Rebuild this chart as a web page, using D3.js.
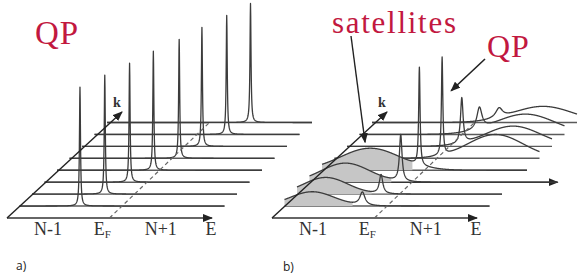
<!DOCTYPE html>
<html>
<head>
<meta charset="utf-8">
<script src="https://cdn.jsdelivr.net/npm/d3@7"></script>
<style>
  body { margin: 0; background: #fff; }
  svg text { font-family: "Liberation Serif", "Times New Roman", serif; }
</style>
</head>
<body>
<svg id="chart" width="580" height="280"></svg>
<script>
// k rows of the waterfall (0 = front E axis)
const kRows = [0, 1, 2, 3, 4, 5, 6, 7, 8];

// a) non-interacting: one delta-like peak per k (energy rel. to E_F, weight, width)
const qpA = [-0.41, -0.29, -0.17, -0.06, 0.07, 0.17, 0.29, 0.40];
const qpAWeight = [1, 1, 1, 1, 1, 1, 1, 1];
const qpAWidth = [0.006, 0.006, 0.006, 0.006, 0.006, 0.006, 0.006, 0.006];

// b) interacting: renormalised QP + broad satellites
const qpB = [-0.24, -0.18, -0.11, -0.05, 0.05, 0.12, 0.17, 0.24];
const qpBWeight = [0.11, 0.16, 0.39, 0.82, 0.82, 0.38, 0.18, 0.08];
const qpBWidth = [0.03, 0.02, 0.015, 0.008, 0.008, 0.015, 0.03, 0.04];
const satCenter = [-0.73, -0.72, -0.65, -0.53, 0.57, 0.62, 0.62, 0.67];
const satWeight = [0.12, 0.14, 0.16, 0.185, 0.20, 0.17, 0.17, 0.135];
const satWidth = [0.215, 0.215, 0.235, 0.29, 0.27, 0.27, 0.29, 0.29];

// end of each row on the E axis, and which rows carry an arrow head
const rowEndA = [1, 1, 1, 1, 1, 1, 1, 1, 1];
const rowEndB = [1, 1, 1, 1.42, 1, 1, 1, 1, 1];
const arrowRowsA = [0];
const arrowRowsB = [0, 3];

const tickMain = ["N-1", "E", "N+1", "E"];
const tickSub = ["", "F", "", ""];
const tickE = [-0.6, -0.07, 0.5, 0.99];

const svg = d3.select("#chart");

const xE = d3.scaleLinear().domain([-1, 1]).range([7, 212]);
const kDx = d3.scaleLinear().domain([0, 8]).range([0, 100]);
const kY = d3.scaleLinear().domain([0, 8]).range([218, 122.5]);
const amp = d3.scaleLinear().domain([0, 1]).range([0, 119]);

const red = "#c2183f";
const lineCol = "#5a5a5a";
const peakCol = "#3c3c3c";

const defs = svg.append("defs");
defs.append("marker")
    .attr("id", "arrow")
    .attr("viewBox", "0 0 10 8")
    .attr("refX", 9).attr("refY", 4)
    .attr("markerWidth", 10).attr("markerHeight", 8)
    .attr("markerUnits", "userSpaceOnUse")
    .attr("orient", "auto")
    .append("path")
    .attr("d", "M0,0L10,4L0,8z")
    .attr("fill", "#222");

function spectrum(E, i, p) {
    let v = p.qpW[i] / (1 + Math.pow((E - p.qp[i]) / p.qpWidth[i], 2));
    if (p.satC) v += p.satW[i] * Math.exp(-0.5 * Math.pow((E - p.satC[i]) / p.satS[i], 2));
    return v;
}

function drawPanel(g, p) {
    const px = (E, k) => xE(E) + kDx(k);
    const line = d3.line().x(d => px(d.E, d.k)).y(d => kY(d.k) - amp(d.v));

    // back to front
    kRows.slice().reverse().forEach(k => {
        const end = p.rowEnd[k];
        g.append("line")
            .attr("x1", px(-1, k)).attr("y1", kY(k))
            .attr("x2", px(end, k)).attr("y2", kY(k))
            .attr("stroke", p.arrowRows.includes(k) ? "#333" : lineCol)
            .attr("stroke-width", 1.4)
            .attr("marker-end", p.arrowRows.includes(k) ? "url(#arrow)" : null);

        if (k === 0) return;
        const i = k - 1;
        const grid = d3.range(-1, end, 0.002).concat([p.qp[i], end]).sort((a, b) => a - b);
        const pts = grid.map(E => ({ E, k, v: spectrum(E, i, p) }));

        // shaded incoherent weight below E_F
        if (p.satC && p.satC[i] < 0) {
            const between = pts.filter(d => d.E > p.satC[i] && d.E < p.qp[i]);
            const dip = d3.least(between, d => d.v);
            const part = pts.filter(d => d.E <= dip.E);
            g.append("path")
                .datum(part)
                .attr("d", d3.area().x(d => px(d.E, d.k)).y0(kY(k)).y1(d => kY(d.k) - amp(d.v)))
                .attr("fill", "#c6c6c6");
        }

        g.append("path")
            .datum(pts)
            .attr("d", line)
            .attr("fill", "none")
            .attr("stroke", peakCol)
            .attr("stroke-width", 1.3)
            .attr("stroke-linejoin", "round");
    });

    // E_F dashed line
    g.append("line")
        .attr("x1", px(0, 0)).attr("y1", kY(0))
        .attr("x2", px(0, 8)).attr("y2", kY(8))
        .attr("stroke", "#666")
        .attr("stroke-width", 1.2)
        .attr("stroke-dasharray", "4,3");

    // k axis
    g.append("line")
        .attr("x1", px(-1, 0)).attr("y1", kY(0))
        .attr("x2", px(-1, 0) + 115).attr("y2", kY(0) - 106)
        .attr("stroke", "#222")
        .attr("stroke-width", 1.4)
        .attr("marker-end", "url(#arrow)");
    g.append("text")
        .attr("x", px(-1, 0) + 106).attr("y", kY(0) - 111)
        .attr("font-size", 14).attr("font-weight", "bold")
        .attr("fill", "#333")
        .text("k");

    // energy labels
    const t = g.selectAll(".tick").data(tickMain).enter()
        .append("text")
        .attr("class", "tick")
        .attr("x", (d, j) => xE(tickE[j]))
        .attr("y", 235)
        .attr("text-anchor", "middle")
        .attr("font-size", 18)
        .attr("fill", "#333")
        .text(d => d);
    t.filter((d, j) => tickSub[j] !== "")
        .append("tspan")
        .attr("dy", 3)
        .attr("font-size", 11)
        .text((d, j) => "F");
}

const gA = svg.append("g");
drawPanel(gA, {
    qp: qpA, qpW: qpAWeight, qpWidth: qpAWidth,
    rowEnd: rowEndA, arrowRows: arrowRowsA
});

const gB = svg.append("g").attr("transform", "translate(265,0)");
drawPanel(gB, {
    qp: qpB, qpW: qpBWeight, qpWidth: qpBWidth,
    satC: satCenter, satW: satWeight, satS: satWidth,
    rowEnd: rowEndB, arrowRows: arrowRowsB
});

// labels
svg.append("text")
    .attr("x", 35).attr("y", 44)
    .attr("font-size", 33).attr("letter-spacing", 1)
    .attr("fill", red)
    .text("QP");

gB.append("text")
    .attr("x", 67).attr("y", 33)
    .attr("font-size", 31)
    .attr("textLength", 124).attr("lengthAdjust", "spacing")
    .attr("fill", red)
    .text("satellites");

gB.append("text")
    .attr("x", 222).attr("y", 57)
    .attr("font-size", 32).attr("letter-spacing", 1)
    .attr("fill", red)
    .text("QP");

// annotation arrows, anchored on the satellite of row 4 and the QP of row 5
const satTip = [xE(satCenter[3] - 0.05) + kDx(4), kY(4) - amp(satWeight[3]) - 6];
gB.append("line")
    .attr("x1", 86).attr("y1", 36)
    .attr("x2", satTip[0]).attr("y2", satTip[1])
    .attr("stroke", "#222").attr("stroke-width", 1.4)
    .attr("marker-end", "url(#arrow)");

const qpTip = [xE(qpB[4]) + kDx(5) + 9, kY(5) - amp(qpBWeight[4]) + 30];
gB.append("line")
    .attr("x1", 220).attr("y1", 59)
    .attr("x2", qpTip[0]).attr("y2", qpTip[1])
    .attr("stroke", "#222").attr("stroke-width", 1.6)
    .attr("marker-end", "url(#arrow)");

svg.append("text")
    .attr("x", 16).attr("y", 270)
    .attr("font-size", 12)
    .style("font-family", "'Open Sans', sans-serif")
    .attr("fill", "#222")
    .text("a)");
svg.append("text")
    .attr("x", 283).attr("y", 271)
    .attr("font-size", 12)
    .style("font-family", "'Open Sans', sans-serif")
    .attr("fill", "#222")
    .text("b)");
</script>
</body>
</html>
